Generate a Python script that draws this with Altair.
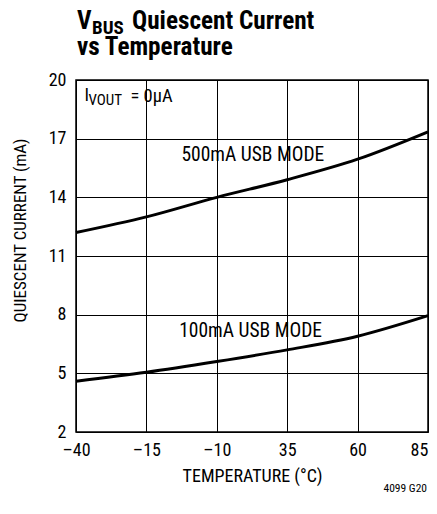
import altair as alt
import pandas as pd

temps = [-40, -15, 10, 35, 60, 85]
i500 = [12.2, 13.0, 14.0, 14.9, 15.95, 17.35]
i100 = [4.6, 5.05, 5.6, 6.2, 6.9, 7.95]
x_ticks = [-40, -15, 10, 35, 60, 85]
x_tick_labels = ["–40", "–15", "–10", "35", "60", "85"]
y_ticks = [2, 5, 8, 11, 14, 17, 20]

FONT = "Roboto Condensed, Liberation Sans Narrow, Liberation Sans, sans-serif"

df = pd.DataFrame({
    "t": temps * 2,
    "i": i500 + i100,
    "mode": ["500mA"] * len(temps) + ["100mA"] * len(temps),
})

label_expr = ""
for v, l in zip(x_ticks, x_tick_labels):
    label_expr += f"datum.value == {v} ? '{l}' : "
label_expr += "datum.label"

xs = alt.Scale(domain=[-40, 85], nice=False)
ys = alt.Scale(domain=[2, 20], nice=False)

lines = alt.Chart(df).mark_line(color="black", strokeWidth=3, interpolate="monotone").encode(
    x=alt.X("t:Q", scale=xs, axis=alt.Axis(
        values=x_ticks, labelExpr=label_expr, title="TEMPERATURE (°C)",
        grid=True, gridColor="black", gridWidth=1, gridOpacity=1,
        domain=False, ticks=False, labelFont=FONT, labelFontSize=18, labelColor="black",
        labelPadding=9, titleFont=FONT, titleFontSize=18, titleFontWeight="normal",
        titleColor="black", titlePadding=8, labelFlush=False,
        labelOffset={"expr": f"datum.value == {x_ticks[-1]} ? -9 : 0"})),
    y=alt.Y("i:Q", scale=ys, axis=alt.Axis(
        values=y_ticks, title="QUIESCENT CURRENT (mA)",
        grid=True, gridColor="black", gridWidth=1, gridOpacity=1,
        domain=False, ticks=False, labelFont=FONT, labelFontSize=18, labelColor="black",
        labelPadding=10, titleFont=FONT, titleFontSize=17, titleFontWeight="normal",
        titleColor="black", titlePadding=19, titleY=150, labelFlush=False)),
    detail="mode:N",
)

ann = pd.DataFrame({
    "t": [22.8, 22.0],
    "i": [16.17, 7.17],
    "txt": ["500mA USB MODE", "100mA USB MODE"],
})
ann_text = alt.Chart(ann).mark_text(font=FONT, fontSize=19.5, color="black").encode(
    x=alt.X("t:Q", scale=xs), y=alt.Y("i:Q", scale=ys), text="txt:N")

cond = pd.DataFrame({"t": [-37.0], "i": [19.2]})
cond_I = alt.Chart(cond).mark_text(font=FONT, fontSize=18, align="left", color="black", text="I").encode(
    x=alt.X("t:Q", scale=xs), y=alt.Y("i:Q", scale=ys))
cond_sub = alt.Chart(cond).mark_text(font=FONT, fontSize=15, align="left", color="black", text="VOUT", dx=4, dy=4).encode(
    x=alt.X("t:Q", scale=xs), y=alt.Y("i:Q", scale=ys))
cond_rest = alt.Chart(cond).mark_text(font=FONT, fontSize=18.5, align="left", color="black", text="= 0µA", dx=46).encode(
    x=alt.X("t:Q", scale=xs), y=alt.Y("i:Q", scale=ys))

t_v = alt.Chart(cond).mark_text(font=FONT, fontSize=25.2, fontWeight="bold", align="left", baseline="alphabetic",
                                color="black", text="V").encode(x=alt.value(1), y=alt.value(-51))
t_bus = alt.Chart(cond).mark_text(font=FONT, fontSize=19, fontWeight="bold", align="left", baseline="alphabetic",
                                  color="black", text="BUS").encode(x=alt.value(16), y=alt.value(-46))
t_rest = alt.Chart(cond).mark_text(font=FONT, fontSize=25.2, fontWeight="bold", align="left", baseline="alphabetic",
                                   color="black", text="Quiescent Current").encode(x=alt.value(56), y=alt.value(-51))
t_line2 = alt.Chart(cond).mark_text(font=FONT, fontSize=25.2, fontWeight="bold", align="left", baseline="alphabetic",
                                    color="black", text="vs Temperature").encode(x=alt.value(1), y=alt.value(-25))
foot = alt.Chart(cond).mark_text(font=FONT, fontSize=11.5, align="right", baseline="middle",
                                 color="black", text="4099 G20").encode(x=alt.value(351), y=alt.value(409))

chart = alt.layer(lines, ann_text, cond_I, cond_sub, cond_rest, t_v, t_bus, t_rest, t_line2, foot).properties(
    width=352, height=352,
    autosize=alt.AutoSizeParams(type="none"),
    padding={"left": 68, "top": 72, "right": 1, "bottom": 72},
    background="white",
).configure_view(stroke="black", strokeWidth=1.5)

chart.save("out.html", embed_options={"renderer": "svg", "actions": False})
